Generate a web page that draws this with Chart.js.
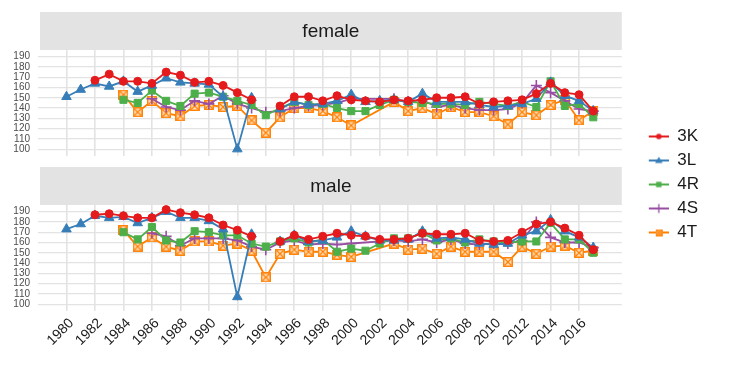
<!DOCTYPE html>
<html>
<head>
<meta charset="utf-8">
<script src="https://cdn.jsdelivr.net/npm/chart.js@4.4.1/dist/chart.umd.min.js"></script>
<style>
  html, body { margin: 0; padding: 0; background: #ffffff; }
  #c { display: block; }
</style>
</head>
<body>
<canvas id="c" width="736" height="368"></canvas>
<script>
// ---------- data ----------
const years = [1980,1981,1982,1983,1984,1985,1986,1987,1988,1989,1990,1991,1992,1993,1994,1995,1996,1997,1998,1999,
               2000,2001,2002,2003,2004,2005,2006,2007,2008,2009,2010,2011,2012,2013,2014,2015,2016,2017];
const seriesNames = ['3K', '3L', '4R', '4S', '4T'];
const panelNames = ['female', 'male'];
const xTicks = [1980,1982,1984,1986,1988,1990,1992,1994,1996,1998,2000,2002,2004,2006,2008,2010,2012,2014,2016];
const yTicks = [100,110,120,130,140,150,160,170,180,190];

// female
const female3K = [null,null,167,173,166,166,164,175,172,165,166,162,155,148,null,142,151,151,147,152,148,147,146,148,147,148,150,150,151,144,146,147,148,154,164,155,153,137];
const female3L = [151,158,164,161,166,156,162,169,165,164,163,151,100,150,null,139,146,143,144,147,153,146,147,148,146,154,146,146,146,143,141,142,144,149,165,152,147,137];
const female4R = [null,null,null,null,148,145,157,147,142,154,155,151,147,143,133,140,146,143,144,140,137,137,143,148,146,145,144,144,143,146,144,142,146,141,166,142,144,131];
const female4S = [null,null,null,null,null,null,149,141,138,147,144,152,144,140,136,137,140,142,143,145,149,null,null,149,146,148,141,143,140,138,138,139,145,162,155,147,139,137];
const female4T = [null,null,null,null,153,136,147,135,132,142,143,141,142,128,116,131,140,140,137,131,123,null,null,146,137,140,134,141,136,136,132,124,136,133,143,148,128,137];

// male
const male3K = [null,null,187,188,186,184,184,192,189,187,184,177,172,166,null,161,167,163,166,169,167,166,163,163,164,169,168,168,169,162,161,162,170,178,180,174,167,153];
const male3L = [173,178,186,184,185,179,184,190,184,184,181,173,107,168,null,161,167,161,162,165,171,166,162,162,163,171,164,165,163,159,158,159,167,171,182,171,165,155];
const male4R = [null,null,null,null,170,163,175,162,160,171,170,167,167,159,156,161,164,160,163,151,154,152,159,164,164,169,162,164,160,163,161,160,161,161,179,163,163,150];
const male4S = [null,null,null,null,null,null,169,166,157,164,164,164,162,156,153,160,162,158,159,158,159,null,null,162,161,163,160,163,159,158,159,159,162,180,165,160,160,155];
const male4T = [null,null,null,null,172,156,165,156,152,161,161,157,159,152,126,149,153,151,151,148,146,null,null,159,153,154,149,156,151,151,151,141,156,149,156,157,150,152];

const femaleSeries = [female3K, female3L, female4R, female4S, female4T];
const maleSeries = [male3K, male3L, male4R, male4S, male4T];

// ---------- styles ----------
const FONT = "'Liberation Sans', Arial, Helvetica, sans-serif";
const colors = ['#E41A1C', '#377EB8', '#4DAF4A', '#984EA3', '#FF7F00'];
const spanGapsFor = [false, false, true, true, true];

function makeBoxX(size, color) {
  const c = document.createElement('canvas');
  c.width = size; c.height = size;
  const g = c.getContext('2d');
  g.fillStyle = '#ffe2c4';
  g.fillRect(0, 0, size, size);
  g.strokeStyle = color;
  g.lineWidth = 1.4;
  g.strokeRect(0.75, 0.75, size - 1.5, size - 1.5);
  g.beginPath();
  g.moveTo(1.5, 1.5); g.lineTo(size - 1.5, size - 1.5);
  g.moveTo(size - 1.5, 1.5); g.lineTo(1.5, size - 1.5);
  g.lineWidth = 1.2;
  g.stroke();
  return c;
}
const boxX = makeBoxX(10, colors[4]);

const pointStyles = ['circle', 'triangle', 'rect', 'cross', boxX];
const pointRadii = [4, 5.5, 5, 5.5, 5];

function makeLegendIcon(i) {
  const c = document.createElement('canvas');
  c.width = 40; c.height = 14;
  const g = c.getContext('2d');
  const col = colors[i];
  g.strokeStyle = col; g.fillStyle = col; g.lineWidth = 2;
  g.beginPath(); g.moveTo(20, 7); g.lineTo(40, 7); g.stroke();
  const cx = 30, cy = 7;
  if (i === 0) { g.beginPath(); g.arc(cx, cy, 2.8, 0, Math.PI * 2); g.fill(); }
  else if (i === 1) { g.beginPath(); g.moveTo(cx, cy - 3.8); g.lineTo(cx + 3.8, cy + 2.6); g.lineTo(cx - 3.8, cy + 2.6); g.closePath(); g.fill(); }
  else if (i === 2) { g.fillRect(cx - 2.7, cy - 2.7, 5.4, 5.4); }
  else if (i === 3) { g.lineWidth = 1.3; g.beginPath(); g.moveTo(cx - 4.5, cy); g.lineTo(cx + 4.5, cy); g.moveTo(cx, cy - 4.5); g.lineTo(cx, cy + 4.5); g.stroke(); }
  else { g.drawImage(makeBoxX(7, col), cx - 3.5, cy - 3.5); }
  return c;
}
const legendIcons = seriesNames.map((n, i) => makeLegendIcon(i));

function buildDatasets(seriesList, axisId) {
  return seriesList.map((arr, i) => ({
    label: seriesNames[i],
    data: years.map((yr, k) => ({ x: yr, y: arr[k] })),
    yAxisID: axisId,
    borderColor: colors[i],
    backgroundColor: colors[i],
    borderWidth: 1.8,
    pointStyle: pointStyles[i],
    pointRadius: pointRadii[i],
    pointBorderWidth: i === 3 ? 1.6 : 1,
    pointBackgroundColor: colors[i],
    pointBorderColor: colors[i],
    spanGaps: spanGapsFor[i],
    tension: 0
  }));
}

const datasets = buildDatasets(femaleSeries, 'yF').concat(buildDatasets(maleSeries, 'yM'));

const Y_MIN = 93.3, Y_MAX = 196.5;
const GRID = '#e3e3e3';

function yAxis(weight) {
  return {
    type: 'linear', position: 'left', stack: 'panels', stackWeight: 106, weight: weight,
    min: Y_MIN, max: Y_MAX,
    afterBuildTicks: s => { s.ticks = yTicks.map(v => ({ value: v })); },
    afterFit: s => { s.width = 36; },
    grid: { color: GRID, lineWidth: 1.2, drawTicks: false },
    border: { display: false },
    ticks: { autoSkip: false, padding: 8, color: '#4d4d4d', font: { family: FONT, size: 10 } }
  };
}

const stripPlugin = {
  id: 'strips',
  beforeDatasetsDraw(chart) {
    const { ctx, chartArea } = chart;
    const yF = chart.scales.yF, yM = chart.scales.yM;
    const stripH = 38;
    ctx.save();
    ctx.fillStyle = '#ffffff';
    ctx.fillRect(chartArea.left - 2, yF.bottom, chartArea.right - chartArea.left + 4, yM.top - yF.bottom);
    const tops = [chartArea.top - stripH, yM.top - stripH];
    ctx.font = '19px ' + FONT;
    ctx.textAlign = 'center';
    ctx.textBaseline = 'middle';
    tops.forEach((t, i) => {
      ctx.fillStyle = '#e3e3e3';
      ctx.fillRect(chartArea.left + 2, t, chartArea.right - chartArea.left - 2, stripH);
      ctx.fillStyle = '#1a1a1a';
      ctx.fillText(panelNames[i], (chartArea.left + chartArea.right) / 2 + 1, t + stripH / 2 + 1);
    });
    ctx.restore();
  }
};

new Chart(document.getElementById('c'), {
  type: 'line',
  data: { datasets },
  plugins: [stripPlugin],
  options: {
    responsive: false,
    animation: false,
    devicePixelRatio: 1,
    layout: { padding: { top: 50, left: 2, right: 27, bottom: 0 } },
    plugins: {
      tooltip: { enabled: false },
      title: { display: false },
      legend: {
        position: 'right',
        align: 'start',
        title: { display: true, text: ' ', font: { size: 10 }, padding: { top: 59, bottom: 0 } },
        labels: {
          usePointStyle: true,
          pointStyleWidth: 40,
          padding: 7,
          color: '#1a1a1a',
          font: { family: FONT, size: 17 },
          generateLabels: chart => seriesNames.map((n, i) => ({
            text: n, pointStyle: legendIcons[i], fillStyle: colors[i], strokeStyle: colors[i],
            lineWidth: 0, hidden: false, datasetIndex: i, fontColor: '#1a1a1a'
          }))
        }
      }
    },
    scales: {
      x: {
        type: 'linear', position: 'bottom', min: 1978, max: 2019,
        afterBuildTicks: s => { s.ticks = xTicks.map(v => ({ value: v })); },
        afterFit: s => { s.height = 57; },
        grid: { color: GRID, lineWidth: 1.6, drawTicks: false },
        border: { display: false },
        ticks: {
          autoSkip: false, minRotation: 45, maxRotation: 45, padding: 4, labelOffset: 5,
          color: '#1a1a1a', font: { family: FONT, size: 14 },
          callback: v => String(v)
        }
      },
      yF: yAxis(3),
      yGap: { type: 'linear', position: 'left', stack: 'panels', stackWeight: 49, weight: 2, display: false, min: 0, max: 1 },
      yM: yAxis(1)
    }
  }
});
</script>
</body>
</html>
